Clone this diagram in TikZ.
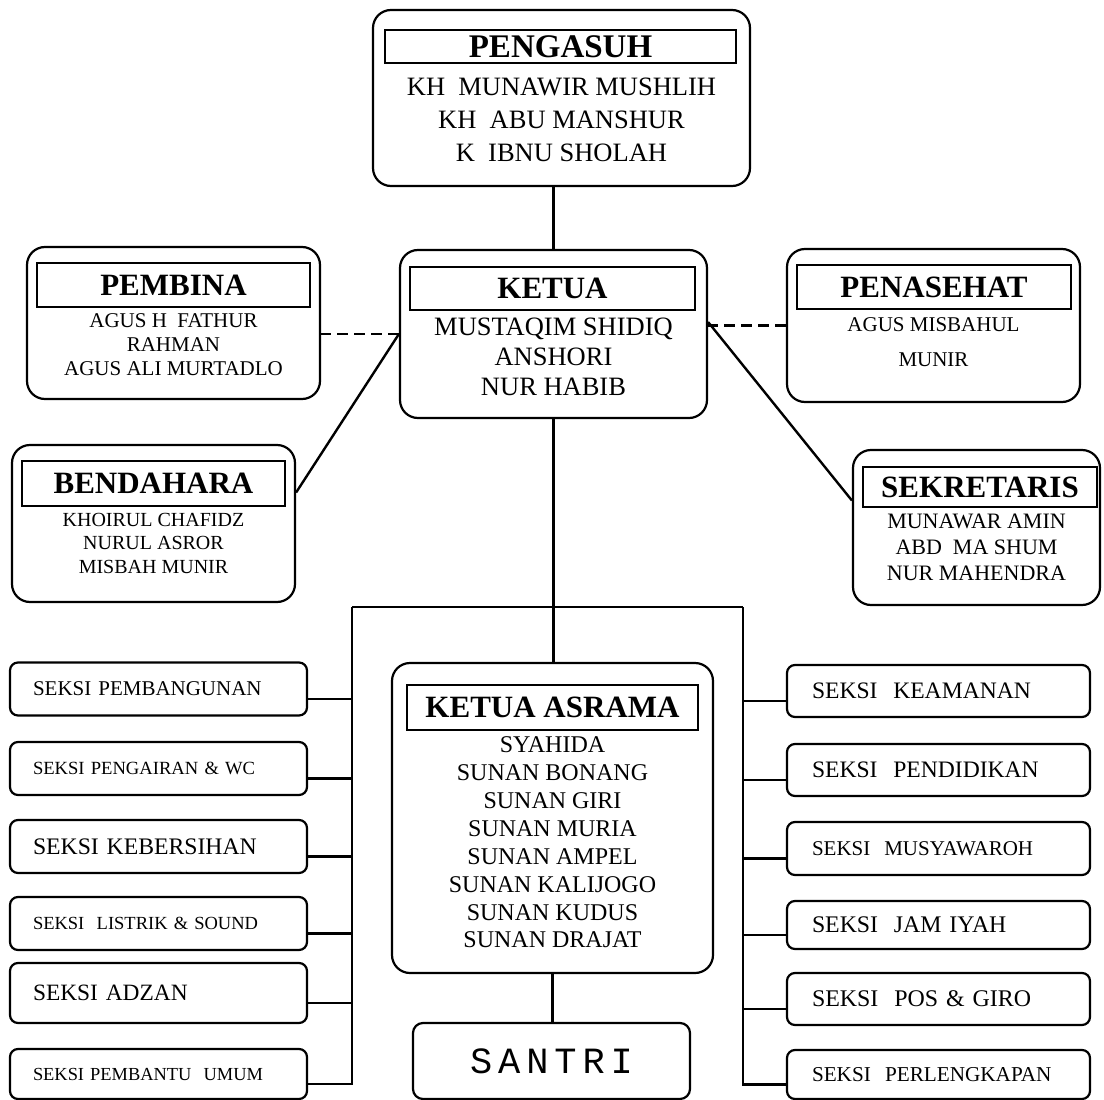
\documentclass[tikz,border=0pt]{standalone}
\usepackage{fontspec}
\setmainfont{Liberation Serif}
\newfontfamily\santrifont[LetterSpace=16]{Liberation Mono}
\tikzset{
  orgbox/.style={draw, rounded corners=18pt, line width=2.2pt, inner sep=0pt},
  headbox/.style={draw, line width=1.1pt, inner sep=0pt, font=\bfseries\fontsize{31}{31}\selectfont},
  namelist/.style={align=center, inner sep=0pt},
  seksiL/.style={draw, rounded corners=8pt, line width=2.2pt, minimum width=297pt,
    text width=251pt, inner xsep=23pt, inner ysep=0pt, align=left},
  seksiR/.style={seksiL, minimum width=303pt, text width=253pt, inner xsep=25pt},
  link/.style={line width=2.4pt},
  dashlink/.style={link, dash pattern=on 11pt off 6pt}
}
\begin{document}
\begin{tikzpicture}[x=1pt,y=-1pt]
\useasboundingbox (0,0) rectangle (1104,1100);
% pimpinan
\node[orgbox, minimum width=377pt, minimum height=176pt] (pengasuh) at (561.5,98) {};
\node[headbox, minimum width=351pt, minimum height=33pt, font=\bfseries\fontsize{33}{33}\selectfont] (pengasuhT) at (560.5,46.5) {PENGASUH};
\node[namelist, font=\fontsize{26.5}{33}\selectfont] (pengasuhN) at (561.5,120) {KH\ \ MUNAWIR MUSHLIH\\KH\ \ ABU MANSHUR\\K\ \ IBNU SHOLAH};

\node[orgbox, minimum width=307pt, minimum height=168pt] (ketua) at (553.5,334) {};
\node[headbox, minimum width=285pt, minimum height=43pt] (ketuaT) at (552.5,288.5) {KETUA};
\node[namelist, font=\fontsize{26.5}{30}\selectfont] (ketuaN) at (553.5,357) {MUSTAQIM SHIDIQ\\ANSHORI\\NUR HABIB};

\node[orgbox, minimum width=293pt, minimum height=152pt] (pembina) at (173.5,323) {};
\node[headbox, minimum width=273pt, minimum height=44pt] (pembinaT) at (173.5,285) {PEMBINA};
\node[namelist, font=\fontsize{21}{24}\selectfont] (pembinaN) at (173.5,345) {AGUS H\ \ FATHUR\\RAHMAN\\AGUS ALI MURTADLO};

\node[orgbox, minimum width=293pt, minimum height=153pt] (penasehat) at (933.5,325.5) {};
\node[headbox, minimum width=274pt, minimum height=44pt] (penasehatT) at (934,287) {PENASEHAT};
\node[namelist, font=\fontsize{21}{35}\selectfont] (penasehatN) at (933.5,342.5) {AGUS MISBAHUL\\MUNIR};

\node[orgbox, minimum width=283pt, minimum height=157pt] (bendahara) at (153.5,523.5) {};
\node[headbox, minimum width=263pt, minimum height=45pt] (bendaharaT) at (153.5,483.5) {BENDAHARA};
\node[namelist, font=\fontsize{20}{23.5}\selectfont] (bendaharaN) at (153.5,543) {KHOIRUL CHAFIDZ\\NURUL ASROR\\MISBAH MUNIR};

\node[orgbox, minimum width=247pt, minimum height=155pt] (sekretaris) at (976.5,527.5) {};
\node[headbox, minimum width=234pt, minimum height=40pt] (sekretarisT) at (980,487) {SEKRETARIS};
\node[namelist, font=\fontsize{22}{26}\selectfont] (sekretarisN) at (976.5,547) {MUNAWAR AMIN\\ABD\ \ MA SHUM\\NUR MAHENDRA};

% asrama dan santri
\node[orgbox, minimum width=321pt, minimum height=310pt] (asrama) at (552.5,818) {};
\node[headbox, minimum width=291pt, minimum height=45pt] (asramaT) at (552.5,707.5) {KETUA ASRAMA};
\node[namelist, font=\fontsize{24}{27.9}\selectfont] (asramaN) at (552.5,842.5) {SYAHIDA\\SUNAN BONANG\\SUNAN GIRI\\SUNAN MURIA\\SUNAN AMPEL\\SUNAN KALIJOGO\\SUNAN KUDUS\\SUNAN DRAJAT};

\node[orgbox, rounded corners=10pt, minimum width=277pt, minimum height=76pt, font=\santrifont\fontsize{37}{37}\selectfont] (santri) at (551.5,1061) {SANTRI};

% seksi-seksi
\foreach \i/\cy/\bh/\fsz/\txt in {1/689/53/21/SEKSI PEMBANGUNAN, 2/768.5/53/18.6/SEKSI PENGAIRAN \& WC,
    3/846.5/53/23.7/SEKSI KEBERSIHAN, 4/923.5/53/18.5/SEKSI\ \ LISTRIK \& SOUND,
    5/993/60/23.4/SEKSI ADZAN, 6/1074/50/18.4/SEKSI PEMBANTU\ \ UMUM}
  \node[seksiL, minimum height=\bh pt, font=\fontsize{\fsz}{\fsz}\selectfont] (sl\i) at (158.5,\cy) {\txt};
\foreach \i/\cy/\bh/\fsz/\txt in {1/691/52/23.6/SEKSI\ \ KEAMANAN, 2/770/52/23.6/SEKSI\ \ PENDIDIKAN,
    3/848.5/53/21/SEKSI\ \ MUSYAWAROH, 4/925/48/23.8/SEKSI\ \ JAM IYAH,
    5/999/52/23.9/SEKSI\ \ POS \& GIRO, 6/1074.5/49/21.2/SEKSI\ \ PERLENGKAPAN}
  \node[seksiR, minimum height=\bh pt, font=\fontsize{\fsz}{\fsz}\selectfont] (sr\i) at (938.5,\cy) {\txt};

% garis
\draw[link] (ketua.north) -- (ketua.north |- pengasuh.south);
\draw[dashlink] (ketua.west) -- (ketua.west -| pembina.east);
\draw[dashlink] (penasehat.west) -- (penasehat.west -| ketua.east);
\draw[link] (ketua.west) -- ([yshift=31pt]bendahara.east);
\draw[link] ([yshift=12pt]ketua.east) -- ([yshift=27pt]sekretaris.west);
\draw[link] (ketua.south) -- (ketua.south |- asrama.north);
\draw[link] (asrama.south) -- (asrama.south |- santri.north);
\coordinate (busL) at (352,607);
\coordinate (busR) at (743,607);
\draw[link] (busL) -- (busR);
\foreach \i in {1,...,6} {
  \draw[link] ([yshift=-10pt]sl\i.east) -| (busL);
  \draw[link] ([yshift=-10pt]sr\i.west) -| (busR);
}
\end{tikzpicture}
\end{document}
